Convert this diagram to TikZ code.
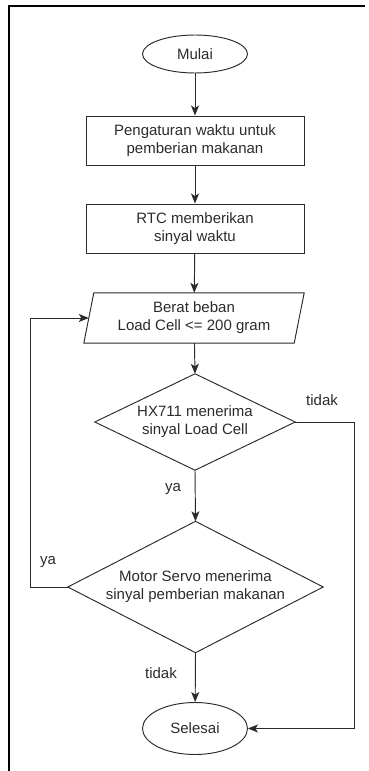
\documentclass[tikz,border=0pt]{standalone}
\usepackage{fontspec}
\setmainfont{Liberation Sans}
\usetikzlibrary{arrows.meta,shapes.geometric,calc}
\definecolor{ink}{HTML}{2B2B2B}
\begin{document}
\begin{tikzpicture}[x=1pt,y=-1pt,
  txt/.style={align=center,font=\fontsize{15}{18}\selectfont,text=ink,inner sep=0pt},
  term/.style={txt,ellipse,draw=ink,line width=0.95pt,minimum width=105pt},
  proc/.style={txt,rectangle,draw=ink,line width=0.95pt,minimum width=218pt,minimum height=49pt},
  holder/.style={txt,rectangle},
  outline/.style={draw=ink,line width=0.95pt},
  flow/.style={draw=ink,line width=0.95pt,-{Stealth[length=10pt,width=8pt,inset=2.5pt]}},
  lbl/.style={font=\fontsize{15}{18}\selectfont,text=ink,inner sep=0pt}
]
\useasboundingbox (0,0) rectangle (369,771);

% page frame (top and left edges)
\draw[line width=2.4pt,black] (365,6) -- (9,6) -- (9,771);

% terminals and process steps
\node[term,minimum height=38pt] (start) at (195,54) {Mulai};
\node[proc] (p1) at (195,140.5) {Pengaturan waktu untuk\\pemberian makanan};
\node[proc] (p2) at (195,228.5) {RTC memberikan\\sinyal waktu};

% input/output (parallelogram)
\node[holder,minimum width=210pt,minimum height=50pt] (io) at (194,318) {Berat beban\\Load Cell <= 200 gram};
\draw[outline] ($(io.north west)+(5,0)$) -- ($(io.north east)+(5,0)$)
  -- ($(io.south east)+(-5,0)$) -- ($(io.south west)+(-5,0)$) -- cycle;

% decisions
\node[holder,minimum width=200pt,minimum height=96pt] (d1) at (195,422) {HX711 menerima\\sinyal Load Cell};
\draw[outline] (d1.north) -- (d1.east) -- (d1.south) -- (d1.west) -- cycle;
\node[holder,minimum width=255pt,minimum height=131pt] (d2) at (195.5,587) {Motor Servo menerima\\sinyal pemberian makanan};
\draw[outline] (d2.north) -- (d2.east) -- (d2.south) -- (d2.west) -- cycle;

\node[term,minimum height=52pt] (end) at (195,728.5) {Selesai};

% connectors
\coordinate (rx) at (354,422);
\coordinate (lx) at (30,587);
\draw[flow] (start) -- (p1);
\draw[flow] (p1) -- (p2);
\draw[flow] (p2) -- (io);
\draw[flow] (io) -- (d1.north);
\draw[flow] (d1.south) -- (d2.north);
\draw[flow] (d2.south) -- (end);
\draw[flow] (d1.east) -- (rx) |- (end.east);
\draw[flow] (d2.west) -- (lx) |- (io.west);

% branch labels
\node[lbl] (l1) at (322,400) {tidak};
\node[lbl] (l2) at (173,489) {ya};
\node[lbl] (l3) at (48,562) {ya};
\node[lbl] (l4) at (161,673) {tidak};
\end{tikzpicture}
\end{document}
